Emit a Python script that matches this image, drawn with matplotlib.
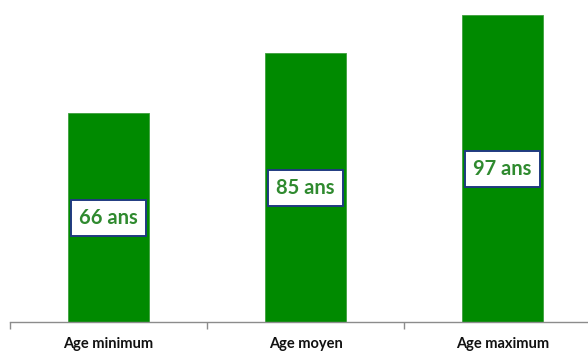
import matplotlib
matplotlib.use("Agg")
import matplotlib.pyplot as plt

categories = ["Age minimum", "Age moyen", "Age maximum"]
ages = [66, 85, 97]
unit = "ans"

W, H = 588, 354
fig = plt.figure(figsize=(W / 100, H / 100), dpi=100)
fig.patch.set_facecolor("white")

# Axes extends slightly past the right edge of the canvas
ax = fig.add_axes([10 / W, 32 / H, 591 / W, 316 / H])
ax.set_xlim(-0.5, 2.5)
ax.set_ylim(0, 100)

x = range(len(categories))
ax.bar(x, ages, width=0.41, color="#008a00", edgecolor="#3da03d", linewidth=0.6, zorder=2)

for xi, v in zip(x, ages):
    ax.text(xi, v / 2, f"{v} {unit}", ha="center", va="center",
            fontsize=14.5, fontweight="bold", color="#2f8a2f", family=["Lato", "DejaVu Sans"],
            bbox=dict(boxstyle="square,pad=0.4", facecolor="white",
                      edgecolor="#1f3a80", linewidth=1.4),
            zorder=3)

for side in ("top", "right", "left"):
    ax.spines[side].set_visible(False)
ax.spines["bottom"].set_color("#8c8c8c")
ax.spines["bottom"].set_linewidth(1.0)

ax.set_yticks([])
ax.set_xticks([-0.5, 0.5, 1.5, 2.5], minor=False)
ax.set_xticklabels([])
ax.tick_params(axis="x", which="major", length=5, width=1.0, color="#8c8c8c", direction="out")
ax.set_xticks(list(x), minor=True)
ax.set_xticklabels(categories, minor=True, fontsize=10.5, fontweight="bold", family=["Lato", "DejaVu Sans"])
ax.tick_params(axis="x", which="minor", length=0, pad=11, labelcolor="#111111")

fig.savefig("out.png", dpi=100, facecolor="white")
